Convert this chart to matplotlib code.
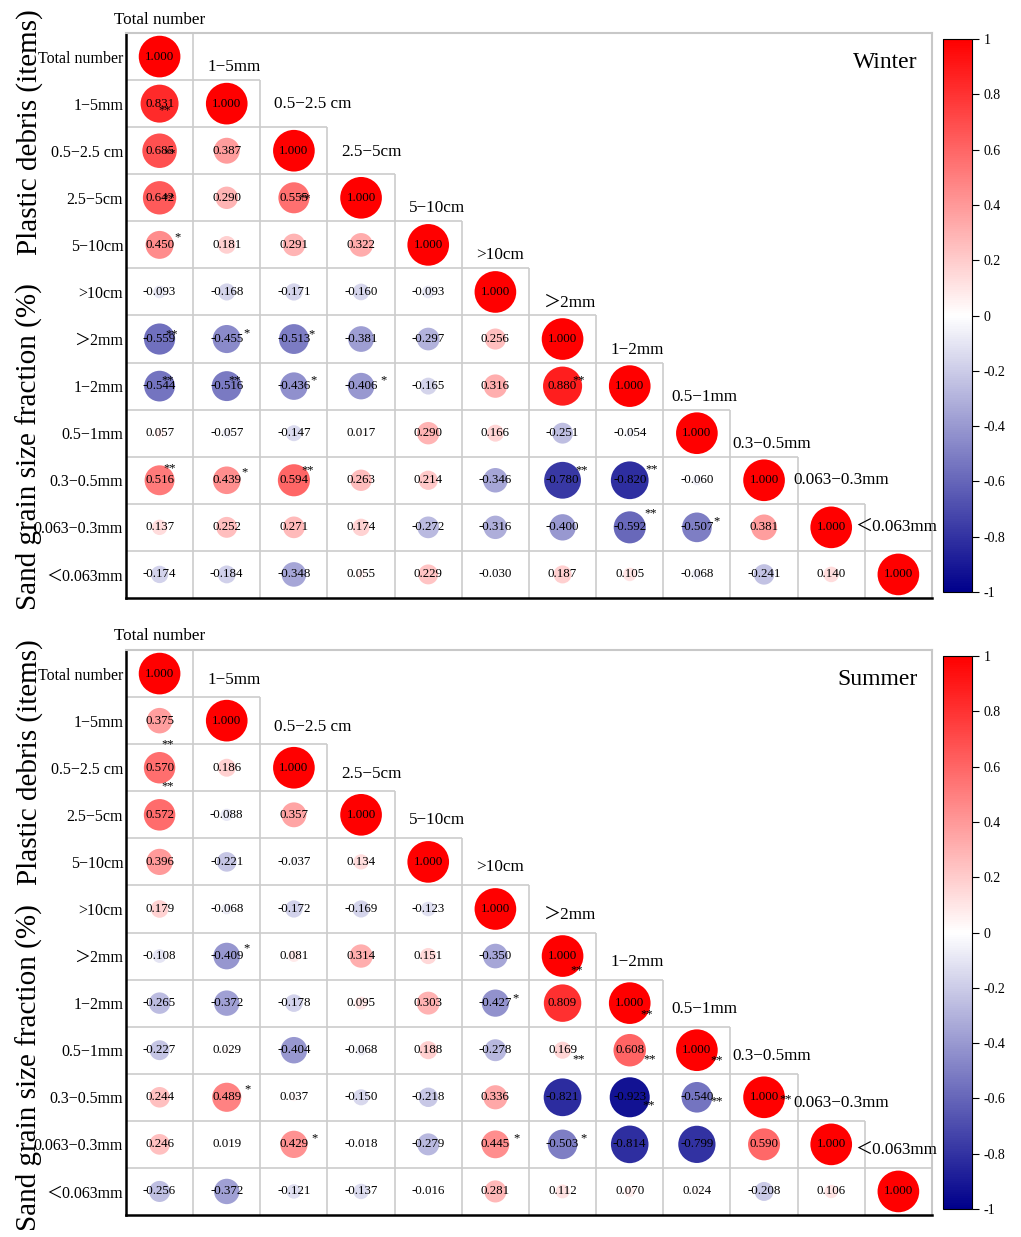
import numpy as np
import matplotlib
matplotlib.use('Agg')
import matplotlib.pyplot as plt
from matplotlib.colors import LinearSegmentedColormap

plt.rcParams['font.family'] = ['Liberation Serif', 'Noto Sans CJK SC']

labels = ['Total number', '1−5mm', '0.5−2.5 cm', '2.5−5cm', '5−10cm', '>10cm',
          '＞2mm', '1−2mm', '0.5−1mm', '0.3−0.5mm', '0.063−0.3mm', '＜0.063mm']

# lower triangle of the correlation matrix, row by row
winter_rows = [
    [1.000],
    [0.831, 1.000],
    [0.685, 0.387, 1.000],
    [0.642, 0.290, 0.555, 1.000],
    [0.450, 0.181, 0.291, 0.322, 1.000],
    [-0.093, -0.168, -0.171, -0.160, -0.093, 1.000],
    [-0.559, -0.455, -0.513, -0.381, -0.297, 0.256, 1.000],
    [-0.544, -0.516, -0.436, -0.406, -0.165, 0.316, 0.880, 1.000],
    [0.057, -0.057, -0.147, 0.017, 0.290, 0.166, -0.251, -0.054, 1.000],
    [0.516, 0.439, 0.594, 0.263, 0.214, -0.346, -0.780, -0.820, -0.060, 1.000],
    [0.137, 0.252, 0.271, 0.174, -0.272, -0.316, -0.400, -0.592, -0.507, 0.381, 1.000],
    [-0.174, -0.184, -0.348, 0.055, 0.229, -0.030, 0.187, 0.105, -0.068, -0.241, 0.140, 1.000],
]
summer_rows = [
    [1.000],
    [0.375, 1.000],
    [0.570, 0.186, 1.000],
    [0.572, -0.088, 0.357, 1.000],
    [0.396, -0.221, -0.037, 0.134, 1.000],
    [0.179, -0.068, -0.172, -0.169, -0.123, 1.000],
    [-0.108, -0.409, 0.081, 0.314, 0.151, -0.350, 1.000],
    [-0.265, -0.372, -0.178, 0.095, 0.303, -0.427, 0.809, 1.000],
    [-0.227, 0.029, -0.404, -0.068, 0.188, -0.278, 0.169, 0.608, 1.000],
    [0.244, 0.489, 0.037, -0.150, -0.218, 0.336, -0.821, -0.923, -0.540, 1.000],
    [0.246, 0.019, 0.429, -0.018, -0.279, 0.445, -0.503, -0.814, -0.799, 0.590, 1.000],
    [-0.256, -0.372, -0.121, -0.137, -0.016, 0.281, 0.112, 0.070, 0.024, -0.208, 0.106, 1.000],
]

# significance marks (row, col, mark)
winter_sig = [(1, 0, '**'), (2, 0, '**'), (3, 0, '**'), (4, 0, '*'), (3, 2, '**'),
              (6, 0, '**'), (6, 1, '*'), (6, 2, '*'), (7, 0, '**'), (7, 1, '**'),
              (7, 2, '*'), (7, 3, '*'), (7, 6, '**'), (9, 0, '**'), (9, 1, '*'),
              (9, 2, '**'), (9, 6, '**'), (9, 7, '**'), (10, 7, '**'), (10, 8, '*')]
summer_sig = [(2, 0, '**'), (3, 0, '**'), (6, 1, '*'), (6, 6, '**'), (7, 5, '*'),
              (7, 7, '**'), (8, 6, '**'), (8, 7, '**'), (8, 8, '**'), (9, 7, '**'),
              (9, 8, '**'), (9, 9, '**'), (9, 1, '*'), (10, 2, '*'), (10, 5, '*'),
              (10, 6, '*')]
# where each mark sits relative to the cell centre, pixels (right, down)
winter_sig_off = [(5, 7), (10, 3), (9, 1), (18, -8), (11, 1),
                  (12, -5), (20, -6), (18, -5), (8, -6), (8, -6),
                  (20, -6), (22, -6), (16, -6), (10, -12), (18, -8),
                  (14, -10), (19, -10), (22, -11), (21, -14), (20, -6)]
summer_sig_off = [(8, -23), (8, -29), (20, -8), (14, 14), (20, -5),
                  (17, 11), (16, 9), (20, 9), (20, 10), (19, 8),
                  (20, 4), (22, 2), (21, -8), (21, -6), (21, -6),
                  (21, -6)]

cmap = LinearSegmentedColormap.from_list('bwr2', ['#00008b', '#ffffff', '#ff0000'])
CW, RH = 67.2, 47.1   # cell size in pixels
SMAX = 900


def draw_panel(ax, cax, rows, sig, sig_off, title, head_dy):
    n = len(labels)
    xs, ys, rs = [], [], []
    for i, row in enumerate(rows):
        for j, r in enumerate(row):
            xs.append(j)
            ys.append(i)
            rs.append(r)
    xs, ys, rs = np.array(xs), np.array(ys), np.array(rs)
    sc = ax.scatter(xs, ys, s=SMAX * np.abs(rs), c=rs, cmap=cmap, vmin=-1, vmax=1,
                    linewidths=0, zorder=2)
    for x, y, r in zip(xs, ys, rs):
        ax.text(x, y, '%.3f' % r, ha='center', va='center', fontsize=9.3, zorder=3)
    for (i, j, m), (dx, dy) in zip(sig, sig_off):
        ax.text(j + dx / CW, i + dy / RH, m, ha='center', va='center', fontsize=9, zorder=4)

    # staircase grid
    for i in range(1, n):
        ax.hlines(i - 0.5, -0.5, i + 0.5, color='#cccccc', lw=1.2, zorder=0)
    for j in range(n - 1):
        ax.vlines(j + 0.5, j - 0.5, n - 0.5, color='#cccccc', lw=1.2, zorder=0)

    # column headers along the diagonal
    for i, lab in enumerate(labels):
        yy = i - 0.5 - head_dy[i] / RH
        if i == 0:
            ax.text(0, yy, lab, ha='center', va='center', fontsize=12.3, clip_on=False)
        else:
            off = 14 if i <= 7 else 14 - 6 * (i - 7)
            ax.text(i - 0.5 + off / CW, yy, lab, ha='left', va='center', fontsize=12.3,
                    clip_on=False)

    ax.set_xlim(-0.5, n - 0.5)
    ax.set_ylim(n - 0.5, -0.5)
    ax.set_xticks([])
    ax.set_yticks(range(n))
    ax.set_yticklabels(labels, fontsize=11.5)
    ax.tick_params(axis='y', length=0, pad=2)
    for s in ['left', 'bottom']:
        ax.spines[s].set_color('black')
        ax.spines[s].set_linewidth(1.8)
    for s in ['top', 'right']:
        ax.spines[s].set_color('#c8c8c8')
        ax.spines[s].set_linewidth(1.5)
    ax.text(0.9826, 0.947, title, transform=ax.transAxes, ha='right', va='center', fontsize=17)

    cb = plt.colorbar(sc, cax=cax)
    ticks = [round(t, 1) for t in np.linspace(-1, 1, 11)]
    cb.set_ticks(ticks)
    cb.set_ticklabels(['%g' % t for t in ticks])
    cb.ax.tick_params(labelsize=10, length=5, width=0.8)
    cb.outline.set_linewidth(0.8)


fig = plt.figure(figsize=(10.21, 12.37), dpi=100)
ax1 = fig.add_axes([0.1234, 0.5166, 0.7894, 0.4567])
cax1 = fig.add_axes([0.9236, 0.5214, 0.0284, 0.447])
ax2 = fig.add_axes([0.1234, 0.0178, 0.7894, 0.4567])
cax2 = fig.add_axes([0.9236, 0.0226, 0.0284, 0.447])

winter_head = [13, 13, 23, 22, 13, 13, 13, 13, 13, 13, 24, 24]
summer_head = [14, 17, 17, 17, 18, 18, 18, 18, 18, 18, 18, 18]
draw_panel(ax1, cax1, winter_rows, winter_sig, winter_sig_off, 'Winter', winter_head)
draw_panel(ax2, cax2, summer_rows, summer_sig, summer_sig_off, 'Summer', summer_head)

fig.text(0.029, 0.893, 'Plastic debris (items)', rotation=90, ha='center', va='center', fontsize=21)
fig.text(0.029, 0.639, 'Sand grain size fraction (%)', rotation=90, ha='center', va='center', fontsize=21)
fig.text(0.029, 0.384, 'Plastic debris (items)', rotation=90, ha='center', va='center', fontsize=21)
fig.text(0.029, 0.137, 'Sand grain size fraction (%)', rotation=90, ha='center', va='center', fontsize=21)

fig.savefig('out.png', dpi=100)
